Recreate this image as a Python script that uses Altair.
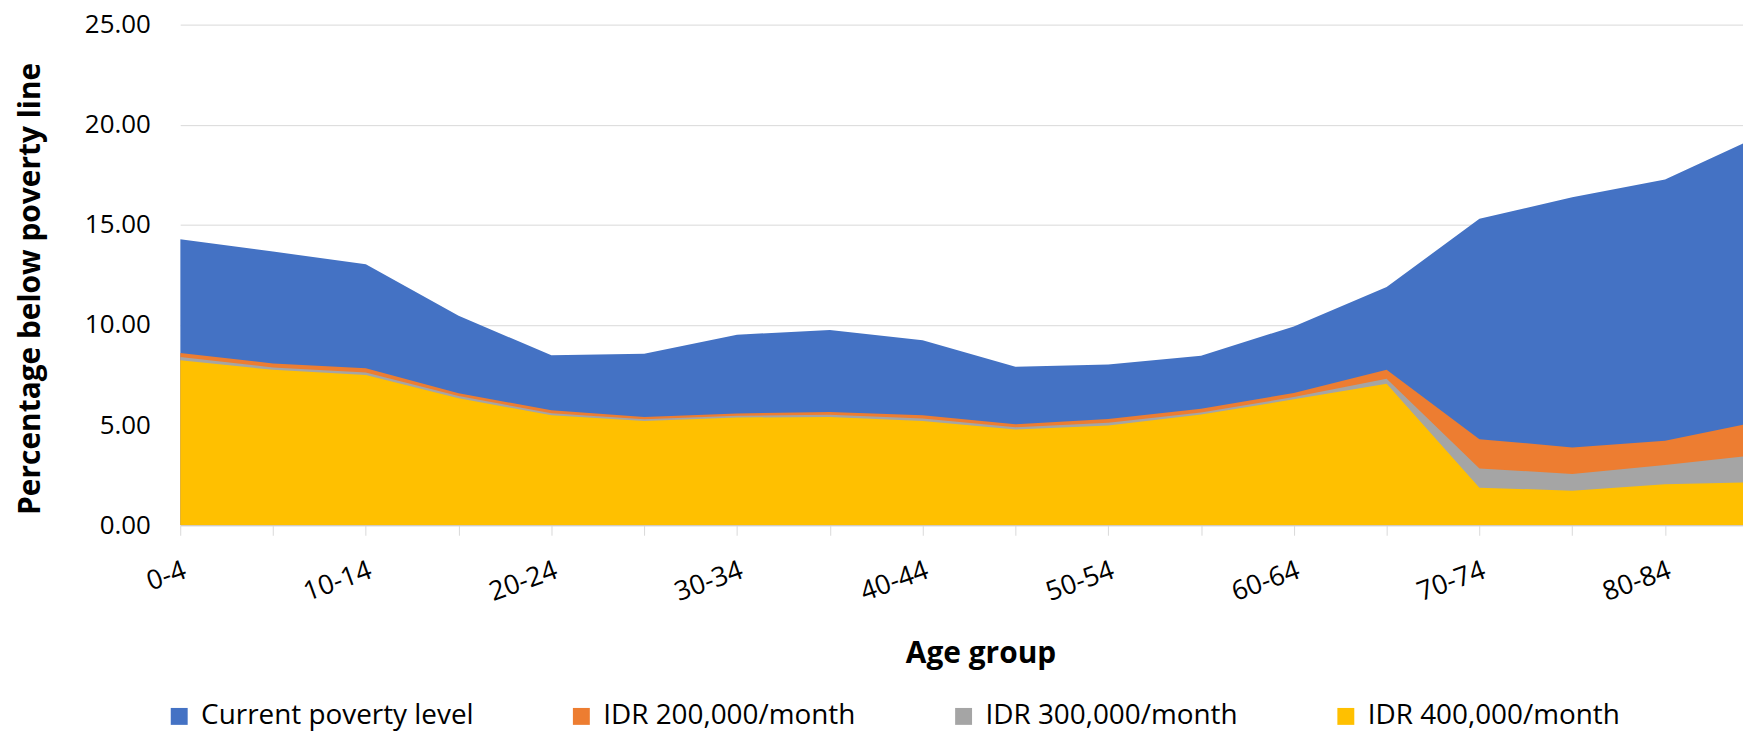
import json
import altair as alt
import pandas as pd

ages = ["0-4", "5-9", "10-14", "15-19", "20-24", "25-29", "30-34", "35-39", "40-44",
        "45-49", "50-54", "55-59", "60-64", "65-69", "70-74", "75-79", "80-84", "85+"]

current = [14.28, 13.67, 13.03, 10.46, 8.49, 8.57, 9.52, 9.75, 9.24,
           7.91, 8.03, 8.47, 9.93, 11.90, 15.30, 16.38, 17.26, 19.41]
idr200 = [8.60, 8.08, 7.84, 6.59, 5.74, 5.41, 5.58, 5.66, 5.49,
          5.04, 5.31, 5.82, 6.60, 7.76, 4.30, 3.89, 4.22, 5.17]
idr300 = [8.40, 7.88, 7.63, 6.45, 5.60, 5.30, 5.47, 5.52, 5.33,
          4.90, 5.12, 5.63, 6.40, 7.32, 2.84, 2.56, 3.01, 3.52]
idr400 = [8.24, 7.76, 7.51, 6.34, 5.49, 5.21, 5.38, 5.41, 5.21,
          4.78, 4.98, 5.53, 6.29, 7.07, 1.88, 1.73, 2.05, 2.15]

series_names = ["Current poverty level", "IDR 200,000/month",
                "IDR 300,000/month", "IDR 400,000/month"]
colors = ["#4472C4", "#ED7D31", "#A5A5A5", "#FFC000"]
y_ticks = [0, 5, 10, 15, 20, 25]

rows = []
for name, vals in zip(series_names, [current, idr200, idr300, idr400]):
    for i, (a, v) in enumerate(zip(ages, vals)):
        rows.append({"age": a, "idx": i, "series": name, "value": v})
df = pd.DataFrame(rows)

FONT = "Open Sans"
label_expr = "datum.value % 2 == 0 ? " + json.dumps(ages) + "[datum.value] : ''"

x_enc = alt.X(
    "idx:Q",
    scale=alt.Scale(domain=[0, 16.84], nice=False, zero=False),
    axis=alt.Axis(
        values=list(range(17)),
        labelExpr=label_expr,
        grid=False,
        domain=True,
        domainColor="#D9D9D9",
        domainWidth=1,
        ticks=True,
        tickColor="#D9D9D9",
        tickSize=10,
        tickWidth=1,
        labelAngle=340,
        labelAlign="right",
        labelBaseline="top",
        labelPadding=22,
        labelFlush=False,
        labelOverlap=False,
        labelFontSize=27,
        labelColor="#000000",
        labelFont=FONT,
        title="Age group",
        titleFont=FONT,
        titleFontSize=30,
        titleFontWeight="bold",
        titleColor="#000000",
        titleX=804,
        titleY=138,
        titleAlign="center",
        titleBaseline="alphabetic",
    ),
)

y_enc = alt.Y(
    "value:Q",
    stack=None,
    scale=alt.Scale(domain=[0, 25], nice=False),
    axis=alt.Axis(
        values=y_ticks,
        format=".2f",
        grid=True,
        gridColor="#D9D9D9",
        gridWidth=1,
        domain=False,
        ticks=False,
        labelPadding=30,
        labelFontSize=26,
        labelColor="#000000",
        labelFont=FONT,
        title="Percentage below poverty line",
        titleFont=FONT,
        titleFontSize=30,
        titleFontWeight="bold",
        titleColor="#000000",
        titleAngle=270,
        titleX=-150,
        titleY=265,
        titleAlign="center",
        titleBaseline="middle",
    ),
)

color_enc = alt.Color(
    "series:N",
    scale=alt.Scale(domain=series_names, range=colors),
    legend=alt.Legend(
        title=None,
        orient="none",
        direction="horizontal",
        legendX=-15,
        legendY=681,
        symbolType="square",
        symbolSize=289,
        symbolStrokeWidth=0,
        symbolOpacity=1,
        labelFontSize=28,
        labelFont=FONT,
        labelColor="#000000",
        labelOffset=8,
        columnPadding=94,
        padding=0,
        labelLimit=0,
    ),
)

base = alt.Chart(df).encode(x=x_enc, y=y_enc, color=color_enc)

layers = [
    base.transform_filter(alt.datum.series == name).mark_area(
        clip=True, opacity=1, interpolate="linear"
    )
    for name in series_names
]

chart = (
    alt.layer(*layers)
    .properties(
        width=1570,
        height=503,
        autosize=alt.AutoSizeParams(type="none"),
        padding={"left": 173, "top": 15, "right": 0, "bottom": 208},
        background="white",
    )
    .configure_view(stroke=None)
)

chart.save("out.html", embed_options={"renderer": "svg", "actions": False})
